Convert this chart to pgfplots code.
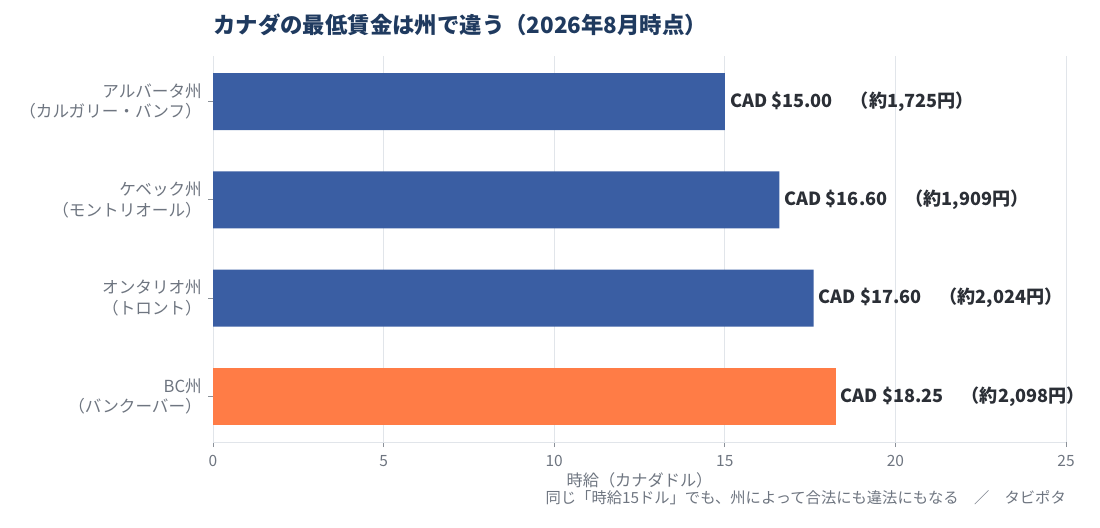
\documentclass[border=0pt]{standalone}
\usepackage{pgfplots}
\pgfplotsset{compat=1.18}
\usepackage{fontspec}
\setmainfont{Noto Sans CJK JP}
\definecolor{barblue}{HTML}{3A5EA3}
\definecolor{barorange}{HTML}{FF7C46}
\definecolor{titlecol}{HTML}{1F3A5F}
\definecolor{tickcol}{HTML}{6E7580}
\definecolor{gridcol}{HTML}{E1E5EA}
\definecolor{labcol}{HTML}{2B2F36}
\begin{document}
\begin{tikzpicture}
\useasboundingbox (0,0) rectangle (1100bp,528bp);
\node[anchor=west, text=titlecol, inner sep=0pt] at (213bp,503bp)
  {\fontsize{22.4bp}{26bp}\selectfont\bfseries カナダの最低賃金は州で違う（2026年8月時点）};
\begin{axis}[
  at={(213bp,86bp)}, anchor=south west,
  scale only axis, width=853bp, height=386bp,
  xmin=0, xmax=25, ymin=-0.463, ymax=3.463,
  y dir=reverse,
  xbar, bar width=57bp,
  xtick={0,5,...,25},
  ytick={0,1,2,3},
  yticklabels={{アルバータ州\\（カルガリー・バンフ）},{ケベック州\\（モントリオール）},{オンタリオ州\\（トロント）},{BC州\\（バンクーバー）}},
  yticklabel style={align=right, font=\fontsize{16.6bp}{20.5bp}\selectfont, text=tickcol, inner sep=0pt, xshift=-6bp},
  xticklabel style={font=\fontsize{15.5bp}{18bp}\selectfont, text=tickcol, inner sep=0pt, yshift=-8bp},
  /pgf/number format/assume math mode=true,
  axis x line*=bottom, axis y line*=left,
  x axis line style={draw=gridcol, line width=1bp},
  y axis line style={draw=none},
  tick align=outside, major tick length=5bp,
  major tick style={draw=tickcol!80, line width=0.8bp},
  xmajorgrids, ymajorgrids=false,
  major grid style={draw=gridcol, line width=1bp},
  point meta=explicit symbolic,
  nodes near coords,
  every node near coord/.append style={anchor=west, inner sep=0pt, xshift=5bp,
     font=\fontsize{18.1bp}{20bp}\selectfont\bfseries, text=labcol},
  clip=false,
]
\addplot[fill=barblue, draw=none, bar shift=0pt] coordinates {
  (15.00,0) [{CAD \$15.00　（約1,725円）}]
  (16.60,1) [{CAD \$16.60　（約1,909円）}]
  (17.60,2) [{CAD \$17.60　（約2,024円）}]
};
\addplot[fill=barorange, draw=none, bar shift=0pt] coordinates {
  (18.25,3) [{CAD \$18.25　（約2,098円）}]
};
\end{axis}
\node[text=tickcol, inner sep=0pt] at (639.5bp,48bp) {\fontsize{16.2bp}{18bp}\selectfont 時給（カナダドル）};
\node[anchor=east, text=tickcol, inner sep=0pt] at (1066bp,30bp) {\fontsize{15.3bp}{18bp}\selectfont 同じ「時給15ドル」でも、州によって合法にも違法にもなる　／　タビポタ};
\end{tikzpicture}
\end{document}
